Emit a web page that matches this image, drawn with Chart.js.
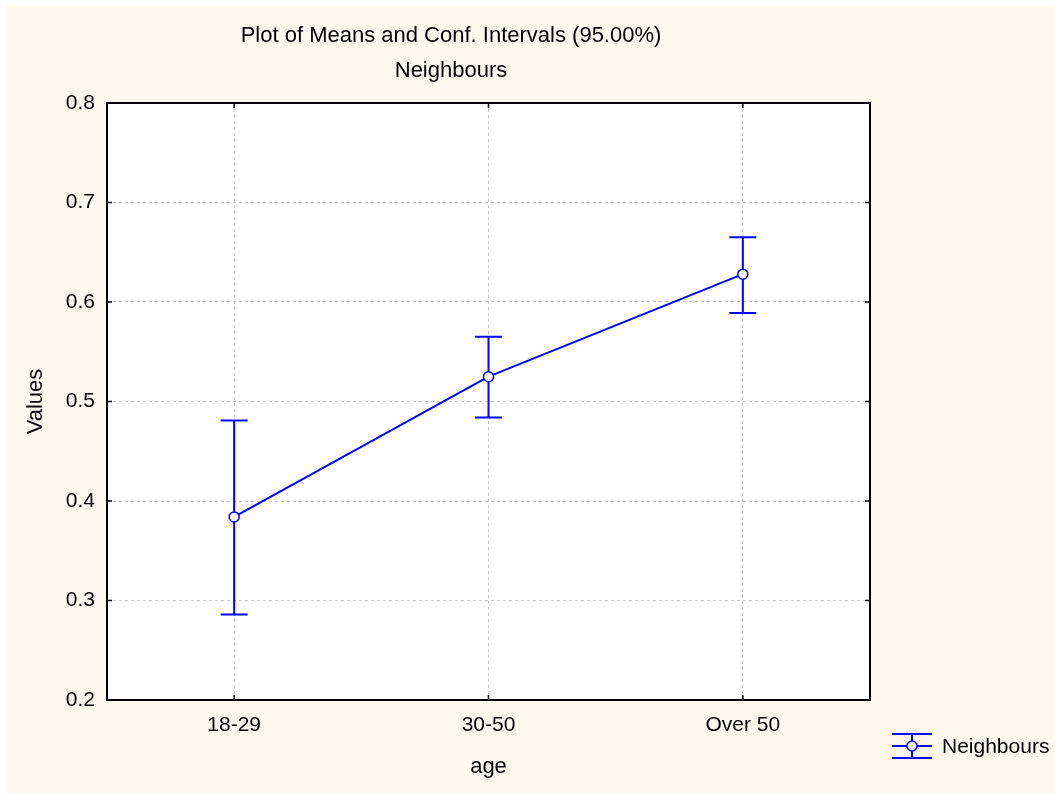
<!DOCTYPE html>
<html>
<head>
<meta charset="utf-8">
<script src="https://cdn.jsdelivr.net/npm/chart.js@4/dist/chart.umd.min.js"></script>
<style>
  html, body { margin: 0; padding: 0; background: #ffffff; }
  #wrap { position: relative; width: 1055px; height: 794px; }
  canvas { display: block; }
</style>
</head>
<body>
<div id="wrap"><canvas id="c" width="1055" height="794"></canvas></div>
<script>
// ---- data ----
const categories = ['18-29', '30-50', 'Over 50'];
const means = [0.384, 0.525, 0.628];
const upperCI = [0.481, 0.565, 0.665];
const lowerCI = [0.286, 0.484, 0.589];
const seriesName = 'Neighbours';
const titleLines = ['Plot of Means and Conf. Intervals (95.00%)', 'Neighbours'];
const xAxisTitle = 'age';
const yAxisTitle = 'Values';
const yMin = 0.2, yMax = 0.8, yStep = 0.1;

const FONT = '"Liberation Sans", Arial, sans-serif';
const BLUE = '#0000ff';

const stylePlugin = {
  id: 'styling',
  beforeDraw(chart) {
    const ctx = chart.ctx;
    ctx.save();
    ctx.fillStyle = '#ffffff';
    ctx.fillRect(0, 0, chart.width, chart.height);
    ctx.fillStyle = '#fdf9ef';
    ctx.fillRect(6, 5, chart.width - 6, chart.height - 5);
    const a = chart.chartArea;
    ctx.fillStyle = '#ffffff';
    ctx.fillRect(a.left, a.top, a.right - a.left, a.bottom - a.top);
    ctx.restore();
  },
  beforeDatasetsDraw(chart) {
    const ctx = chart.ctx;
    const xs = chart.scales.x, ys = chart.scales.y;
    ctx.save();
    ctx.strokeStyle = BLUE;
    ctx.lineWidth = 2;
    for (let i = 0; i < categories.length; i++) {
      const x = xs.getPixelForValue(i);
      const yu = ys.getPixelForValue(upperCI[i]);
      const yl = ys.getPixelForValue(lowerCI[i]);
      ctx.beginPath();
      ctx.moveTo(x, yu); ctx.lineTo(x, yl);
      ctx.moveTo(x - 13.5, yu); ctx.lineTo(x + 13.5, yu);
      ctx.moveTo(x - 13.5, yl); ctx.lineTo(x + 13.5, yl);
      ctx.stroke();
    }
    ctx.restore();
  },
  afterDraw(chart) {
    const ctx = chart.ctx;
    const a = chart.chartArea;
    const xs = chart.scales.x, ys = chart.scales.y;
    ctx.save();
    // inner tick marks
    ctx.strokeStyle = '#000';
    ctx.lineWidth = 1.5;
    ctx.beginPath();
    ys.ticks.forEach(t => {
      const y = ys.getPixelForValue(t.value);
      ctx.moveTo(a.left, y); ctx.lineTo(a.left + 5, y);
      ctx.moveTo(a.right, y); ctx.lineTo(a.right - 5, y);
    });
    for (let i = 0; i < categories.length; i++) {
      const x = xs.getPixelForValue(i);
      ctx.moveTo(x, a.top); ctx.lineTo(x, a.top + 5);
      ctx.moveTo(x, a.bottom); ctx.lineTo(x, a.bottom - 5);
    }
    ctx.stroke();
    // frame
    ctx.lineWidth = 2;
    ctx.strokeRect(a.left, a.top, a.right - a.left, a.bottom - a.top);

    // titles
    ctx.fillStyle = '#000';
    ctx.font = '22px ' + FONT;
    ctx.textAlign = 'center';
    ctx.textBaseline = 'middle';
    ctx.fillText(titleLines[0], 451, 36);
    ctx.fillText(titleLines[1], 451, 71);

    // legend
    const lx = 892, ly = 746;
    ctx.strokeStyle = BLUE;
    ctx.lineWidth = 2;
    ctx.beginPath();
    ctx.moveTo(lx, ly - 12); ctx.lineTo(lx + 40, ly - 12);
    ctx.moveTo(lx, ly); ctx.lineTo(lx + 40, ly);
    ctx.moveTo(lx, ly + 12); ctx.lineTo(lx + 40, ly + 12);
    ctx.moveTo(lx + 20, ly - 12); ctx.lineTo(lx + 20, ly + 12);
    ctx.stroke();
    ctx.beginPath();
    ctx.arc(lx + 20, ly, 5, 0, Math.PI * 2);
    ctx.fillStyle = '#fff';
    ctx.fill();
    ctx.lineWidth = 1.5;
    ctx.stroke();
    ctx.fillStyle = '#000';
    ctx.font = '21px ' + FONT;
    ctx.textAlign = 'left';
    ctx.fillText(seriesName, 942, 747);
    ctx.restore();
  }
};

new Chart(document.getElementById('c'), {
  type: 'line',
  data: {
    labels: categories,
    datasets: [{
      label: seriesName,
      data: means,
      borderColor: BLUE,
      borderWidth: 2,
      backgroundColor: '#ffffff',
      pointBackgroundColor: '#ffffff',
      pointBorderColor: BLUE,
      pointBorderWidth: 1.5,
      pointRadius: 5,
      tension: 0,
      fill: false
    }]
  },
  options: {
    responsive: false,
    animation: false,
    devicePixelRatio: 1,
    layout: { padding: { top: 103, right: 185, bottom: 0, left: 0 } },
    plugins: {
      legend: { display: false },
      title: { display: false },
      tooltip: { enabled: false }
    },
    scales: {
      x: {
        type: 'category',
        offset: true,
        afterFit(s) { s.height = 94; },
        grid: { offset: false, color: '#c8c8c8', lineWidth: 1, drawTicks: false },
        border: { display: false, dash: [3, 3] },
        ticks: { color: '#000', font: { family: FONT, size: 21 }, padding: 13, maxRotation: 0 },
        title: { display: true, text: xAxisTitle, color: '#000', font: { family: FONT, size: 22 }, padding: { top: 0, bottom: 14 } }
      },
      y: {
        min: yMin, max: yMax,
        afterFit(s) { s.width = 107; },
        grid: { color: '#c8c8c8', lineWidth: 1, drawTicks: false },
        border: { display: false, dash: [3, 3] },
        ticks: {
          stepSize: yStep, color: '#000', font: { family: FONT, size: 21 }, padding: 12,
          callback: v => Number(v).toFixed(1)
        },
        title: { display: true, text: yAxisTitle, color: '#000', font: { family: FONT, size: 22 }, padding: { top: 23, bottom: 0 } }
      }
    }
  },
  plugins: [stylePlugin]
});
</script>
</body>
</html>
